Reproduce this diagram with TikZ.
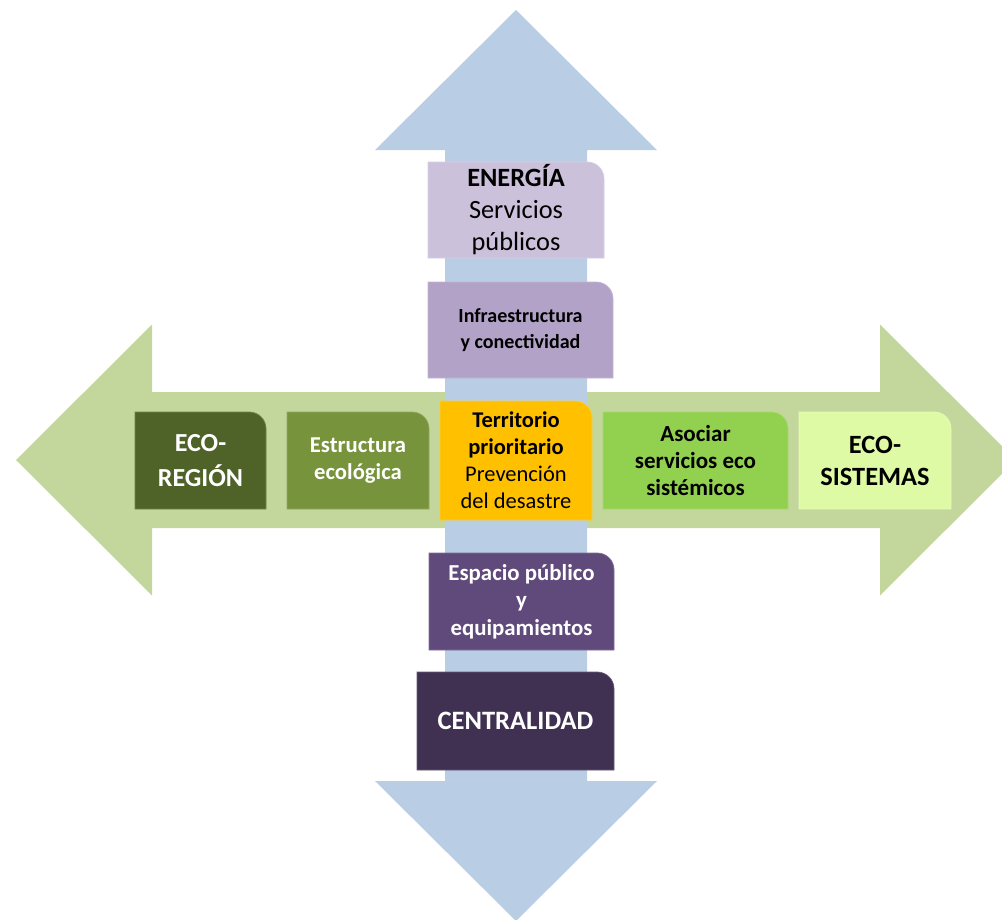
\documentclass[tikz,border=0pt]{standalone}
\usepackage{fontspec}
\setmainfont{Carlito}
\definecolor{arrowblue}{HTML}{B9CDE5}
\definecolor{arrowgreen}{HTML}{C3D69B}
\definecolor{pA}{HTML}{CCC1DA}
\definecolor{pB}{HTML}{B3A2C7}
\definecolor{pC}{HTML}{604A7B}
\definecolor{pD}{HTML}{403152}
\definecolor{gA}{HTML}{4F6228}
\definecolor{gB}{HTML}{77933C}
\definecolor{gC}{HTML}{FFC000}
\definecolor{gD}{HTML}{92D050}
\definecolor{gE}{HTML}{DFFAA5}
\newcommand\tilebox[8]{%
  \fill[#6, draw=#6!80!white, line width=0.4pt] (#2,#5) -- (#2,#3) [rounded corners=9.5pt] -- (#4,#3) [sharp corners] -- (#4,#5) -- cycle;
  \node[tiletext, #7] (#1) at ({(#2+#4)/2},{(#3+#5)/2}) {#8};}
\begin{document}
\begin{tikzpicture}[x=0.02cm,y=-0.02cm,
  tiletext/.style={align=center, inner sep=0pt},
  wtext/.style={text=white},
  ktext/.style={text=black}]
\useasboundingbox (0,0) rectangle (1002,920);
\clip (0,0) rectangle (1002,920);
% horizontal green double arrow
\fill[arrowgreen] (16,460) -- (152,324.5) -- (152,392) -- (880,392) -- (880,324.5)
  -- (1016,460) -- (880,595.5) -- (880,528) -- (152,528) -- (152,595.5) -- cycle;
% vertical blue double arrow
\fill[arrowblue] (516,10) -- (657,150) -- (587,150) -- (587,781) -- (657,781)
  -- (516,921) -- (375,781) -- (445,781) -- (445,150) -- (375,150) -- cycle;
% vertical tiles
\tilebox{energia}{428}{162}{604}{258}{pA}{ktext, font=\fontsize{15}{18.2}\selectfont}{\textbf{ENERGÍA}\\Servicios\\públicos}
\tilebox{infra}{428}{282}{613}{378}{pB}{ktext, font=\fontsize{11.4}{15.2}\selectfont\bfseries}{Infraestructura\\y conectividad}
\tilebox{espacio}{429}{553}{614}{650}{pC}{wtext, font=\fontsize{13}{15.6}\selectfont\bfseries}{Espacio público\\y\\equipamientos}
\tilebox{centralidad}{417}{672}{614}{770}{pD}{wtext, font=\fontsize{15.1}{18}\selectfont\bfseries}{CENTRALIDAD}
% horizontal tiles
\tilebox{ecoregion}{135}{412}{266}{509}{gA}{wtext, font=\fontsize{14.8}{19.8}\selectfont\bfseries}{ECO-\\REGIÓN}
\tilebox{estructura}{287}{412}{429}{509}{gB}{wtext, font=\fontsize{12.9}{15.3}\selectfont\bfseries}{Estructura\\ecológica}
\tilebox{territorio}{440}{401}{592}{520}{gC}{ktext, font=\fontsize{12.8}{15.3}\selectfont}{\textbf{Territorio}\\\textbf{prioritario}\\Prevención\\del desastre}
\tilebox{asociar}{603}{412}{788}{509}{gD}{ktext, font=\fontsize{13.1}{15.1}\selectfont\bfseries}{Asociar\\servicios eco\\sistémicos}
\tilebox{ecosistemas}{799}{412}{951}{509}{gE}{ktext, font=\fontsize{15}{18.2}\selectfont\bfseries}{ECO-\\SISTEMAS}
\end{tikzpicture}
\end{document}
